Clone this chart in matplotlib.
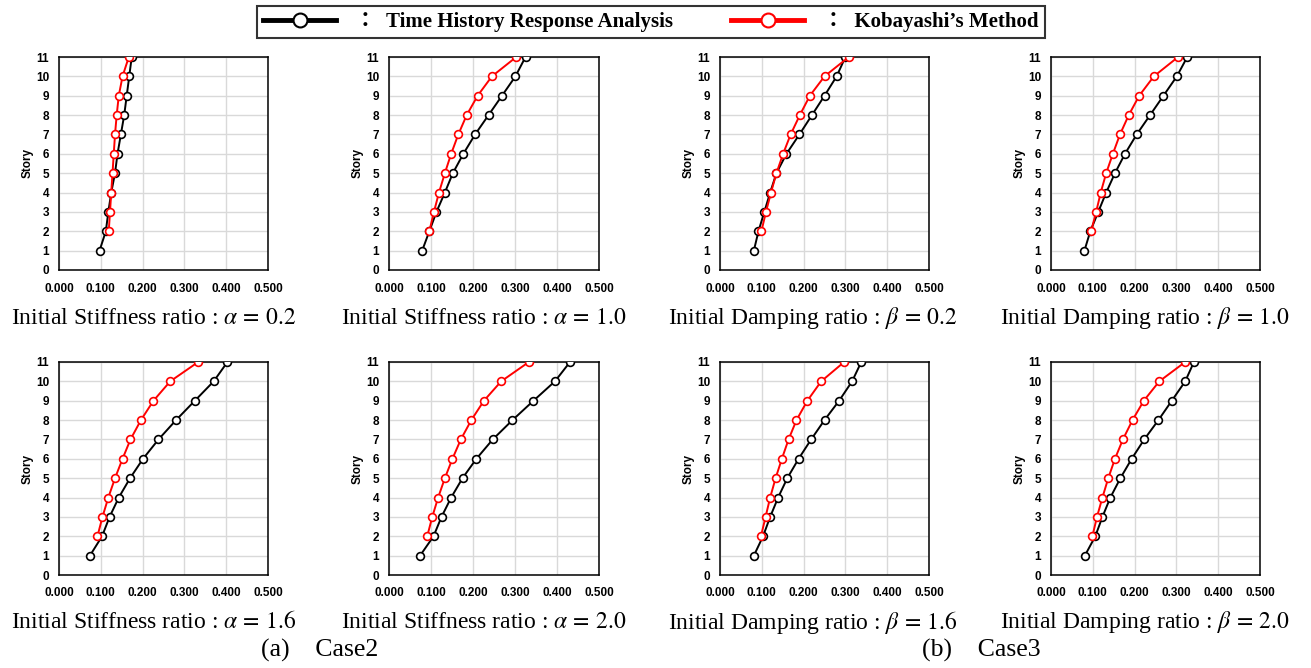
import matplotlib
matplotlib.use("Agg")
import matplotlib.pyplot as plt
from matplotlib.lines import Line2D

plt.rcParams['mathtext.fontset'] = 'stix'

stories_th = list(range(1, 12))
stories_kb = list(range(2, 12))

# Time History Response Analysis (black), story 1..11
th_a02 = [0.097, 0.112, 0.118, 0.125, 0.134, 0.140, 0.148, 0.156, 0.162, 0.168, 0.174]
th_a10 = [0.079, 0.096, 0.113, 0.133, 0.152, 0.177, 0.205, 0.237, 0.269, 0.301, 0.325]
th_b02 = [0.081, 0.092, 0.106, 0.120, 0.135, 0.159, 0.190, 0.220, 0.250, 0.279, 0.300]
th_b10 = [0.080, 0.094, 0.113, 0.132, 0.153, 0.177, 0.205, 0.237, 0.269, 0.301, 0.326]
th_a16 = [0.074, 0.103, 0.121, 0.143, 0.170, 0.201, 0.238, 0.280, 0.325, 0.370, 0.403]
th_a20 = [0.074, 0.106, 0.125, 0.148, 0.175, 0.208, 0.247, 0.294, 0.344, 0.395, 0.431]
th_b16 = [0.081, 0.103, 0.120, 0.139, 0.161, 0.188, 0.218, 0.250, 0.285, 0.316, 0.338]
th_b20 = [0.081, 0.106, 0.123, 0.142, 0.166, 0.193, 0.223, 0.257, 0.289, 0.321, 0.342]

# Kobayashi's Method (red), story 2..11
kb_a02 = [0.119, 0.122, 0.125, 0.128, 0.131, 0.134, 0.138, 0.143, 0.152, 0.167]
kb_a10 = [0.096, 0.107, 0.119, 0.133, 0.148, 0.165, 0.185, 0.211, 0.245, 0.303]
kb_b02 = [0.099, 0.110, 0.122, 0.135, 0.151, 0.169, 0.191, 0.215, 0.250, 0.308]
kb_b10 = [0.096, 0.108, 0.119, 0.132, 0.148, 0.165, 0.186, 0.211, 0.246, 0.304]
kb_a16 = [0.092, 0.104, 0.118, 0.134, 0.152, 0.171, 0.196, 0.226, 0.266, 0.333]
kb_a20 = [0.091, 0.103, 0.117, 0.133, 0.151, 0.171, 0.196, 0.226, 0.267, 0.333]
kb_b16 = [0.098, 0.109, 0.120, 0.133, 0.148, 0.164, 0.183, 0.209, 0.242, 0.297]
kb_b20 = [0.099, 0.110, 0.123, 0.137, 0.153, 0.172, 0.195, 0.222, 0.259, 0.321]

captions = [
    r"Initial Stiffness ratio : $\alpha\,=\,0.2$",
    r"Initial Stiffness ratio : $\alpha\,=\,1.0$",
    r"Initial Damping ratio : $\beta\,=\,0.2$",
    r"Initial Damping ratio : $\beta\,=\,1.0$",
    r"Initial Stiffness ratio : $\alpha\,=\,1.6$",
    r"Initial Stiffness ratio : $\alpha\,=\,2.0$",
    r"Initial Damping ratio : $\beta\,=\,1.6$",
    r"Initial Damping ratio : $\beta\,=\,2.0$",
]
th_all = [th_a02, th_a10, th_b02, th_b10, th_a16, th_a20, th_b16, th_b20]
kb_all = [kb_a02, kb_a10, kb_b02, kb_b10, kb_a16, kb_a20, kb_b16, kb_b20]

xticks = [0.0, 0.1, 0.2, 0.3, 0.4, 0.5]
yticks = list(range(0, 12))

W, H = 1311, 668
fig = plt.figure(figsize=(W / 100, H / 100), dpi=100)

# axes boxes in pixels (x0, x1) and (y top, y bottom)
cols = [(59, 268), (389, 599), (720, 929), (1051, 1260)]
rows = [(57, 270), (362, 575)]
cap_x = [154, 484, 813, 1145]
cap_y = [318, 622]

serif = ['Liberation Serif', 'Noto Sans CJK JP']
tick_font = dict(family='Liberation Sans', weight='bold', size=8.5)

for i in range(8):
    r, c = divmod(i, 4)
    x0, x1 = cols[c]
    y0, y1 = rows[r]
    ax = fig.add_axes([x0 / W, 1 - y1 / H, (x1 - x0) / W, (y1 - y0) / H])
    ax.plot(th_all[i], stories_th, color='black', lw=1.4, marker='o', ms=5.6,
            mfc='white', mec='black', mew=1.2, zorder=3)
    ax.plot(kb_all[i], stories_kb, color='#ff0000', lw=1.4, marker='o', ms=5.6,
            mfc='white', mec='#ff0000', mew=1.2, zorder=4)
    ax.set_xlim(0, 0.5)
    ax.set_ylim(0, 11)
    ax.set_xticks(xticks)
    ax.set_yticks(yticks)
    ax.set_xticklabels([f"{v:.3f}" for v in xticks], fontdict=tick_font)
    ax.set_yticklabels([str(v) for v in yticks], fontdict=tick_font)
    ax.tick_params(axis='x', length=0, pad=9)
    ax.tick_params(axis='y', length=0, pad=7)
    ax.grid(True, color='#d9d9d9', lw=1.0)
    ax.set_axisbelow(True)
    for s in ax.spines.values():
        s.set_color('black')
        s.set_linewidth(1.1)
    ax.set_ylabel("Story", fontdict=dict(family='Liberation Sans', weight='bold', size=8.5),
                  labelpad=2)
    fig.text(cap_x[c] / W, 1 - cap_y[r] / H, captions[i], family='Liberation Serif',
             size=17, ha='center', va='center')

fig.text(320 / W, 1 - 650 / H, "(a)　Case2", family=serif, size=18.5, ha='center', va='center')
fig.text(981 / W, 1 - 650 / H, "(b)　Case3", family=serif, size=18.5, ha='center', va='center')

handles = [
    Line2D([], [], color='black', lw=3.5, marker='o', ms=10, mfc='white', mec='black', mew=1.5),
    Line2D([], [], color='#ff0000', lw=3.5, marker='o', ms=10, mfc='white', mec='#ff0000', mew=1.5),
]
labels = ["：  Time History Response Analysis", "：  Kobayashi’s Method"]
leg = fig.legend(handles, labels, loc='center', bbox_to_anchor=(651 / W, 1 - 22 / H),
                 ncol=2, frameon=True, fancybox=False, edgecolor='black',
                 prop=dict(family=serif, weight='bold', size=15),
                 handlelength=3.5, columnspacing=2.8, borderpad=0.3, handletextpad=0.9)
leg.get_frame().set_linewidth(1.5)

fig.savefig("out.png", dpi=100)
